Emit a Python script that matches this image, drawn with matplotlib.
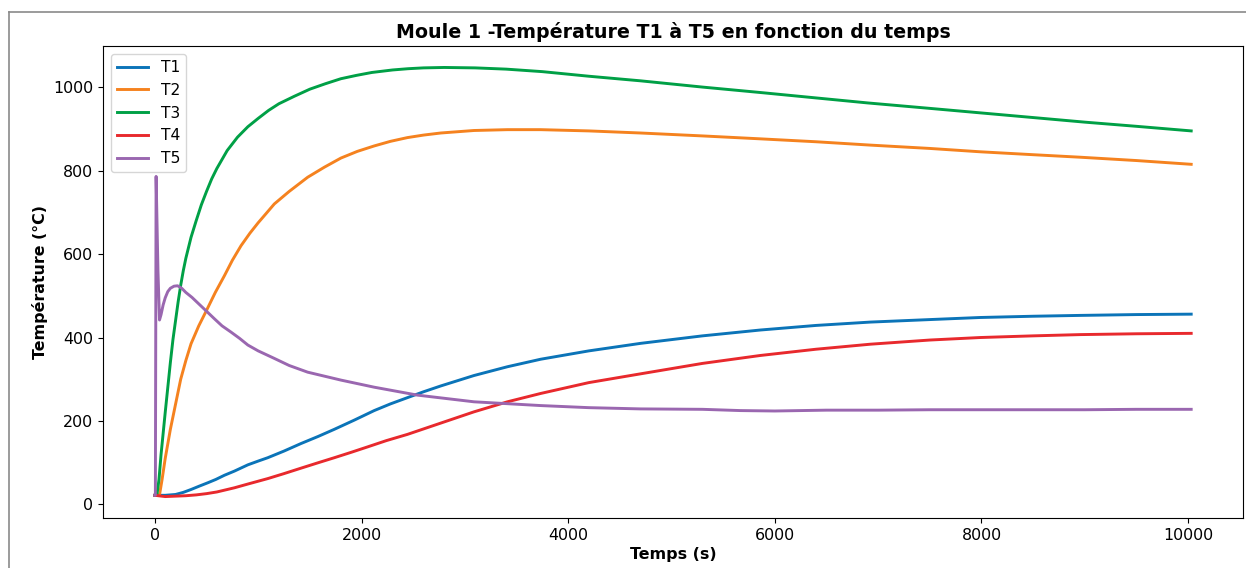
import matplotlib
matplotlib.use("Agg")
import matplotlib.pyplot as plt
from matplotlib.lines import Line2D

# Moule 1 – thermocouple readings (time in s, temperature in °C)
t1_time = [0, 100, 200, 275, 351, 430, 512, 590, 673, 770, 900, 1000, 1092,
           1250, 1414, 1580, 1736, 1929, 2123, 2280, 2445, 2600, 2767,
           3089, 3412, 3734, 4200, 4700, 5300, 5860, 6400, 6924, 7500, 7987,
           8500, 8954, 9500, 10030]
t1_temp = [22, 22, 24, 29, 36, 44, 52, 60, 70, 80, 95, 104, 112,
           128, 146, 163, 180, 202, 225, 241, 256, 270, 284,
           309, 330, 348, 368, 386, 404, 418, 429, 437, 443, 448,
           451, 453, 455, 456]

t2_time = [0, 45, 70, 100, 125, 150, 200, 250, 300, 350, 425, 500, 585, 673,
           750, 834, 920, 1000, 1080, 1156, 1300, 1479, 1640, 1801, 1960, 2123,
           2280, 2445, 2600, 2767, 3089, 3412, 3734, 4200, 4700, 5300, 5860,
           6400, 6924, 7500, 7987, 8500, 8954, 9500, 10030]
t2_temp = [22, 23, 60, 110, 145, 180, 240, 300, 345, 385, 428, 465, 508, 548,
           585, 620, 650, 675, 698, 720, 750, 784, 808, 830, 846, 859,
           870, 879, 885, 890, 896, 898, 898, 895, 890, 883, 876,
           869, 861, 853, 845, 838, 832, 824, 815]

t3_time = [0, 20, 40, 60, 80, 100, 125, 150, 175, 200, 225, 250, 275, 300,
           350, 400, 450, 500, 550, 600, 700, 800, 900, 1000, 1100, 1200, 1350,
           1500, 1650, 1800, 1950, 2100, 2300, 2450, 2600, 2800, 3100, 3400,
           3750, 4200, 4700, 5300, 5860, 6400, 6900, 7500, 8000, 8500, 9000,
           9500, 10030]
t3_temp = [22, 23, 60, 120, 170, 220, 280, 340, 395, 440, 485, 525, 560, 590,
           640, 680, 718, 750, 780, 805, 848, 880, 905, 925, 944, 960, 978,
           995, 1008, 1020, 1028, 1035, 1041, 1044, 1046, 1047, 1046, 1043,
           1037, 1026, 1015, 1000, 987, 974, 962, 949, 938, 927, 916,
           906, 895]

t4_time = [0, 100, 200, 300, 400, 500, 600, 770, 900, 1092, 1250, 1414, 1580,
           1736, 1900, 2059, 2240, 2445, 2767, 3089, 3412, 3734,
           4200, 4700, 5300, 5860, 6400, 6924, 7500, 7987, 8500, 8954, 9500,
           10030]
t4_temp = [22, 19, 20, 21, 23, 26, 30, 40, 49, 62, 74, 87, 100,
           112, 125, 138, 153, 168, 195, 222, 246, 266,
           292, 313, 338, 357, 372, 384, 394, 400, 404, 407, 409,
           410]

t5_time = [0, 5, 12, 30, 45, 60, 80, 100, 125, 150, 185, 220, 260, 300, 360,
           415, 500, 576, 650, 737, 820, 900, 1000, 1156, 1300, 1479, 1801,
           2123, 2542, 3089, 3734, 4200, 4700, 5300, 5667, 6000, 6500, 7000,
           7500, 8000, 8500, 9000, 9500, 10030]
t5_temp = [22, 22, 786, 560, 442, 455, 478, 495, 510, 518, 523, 524, 518, 508,
           496, 483, 463, 445, 428, 413, 398, 382, 368, 350, 333, 317, 298,
           281, 262, 246, 237, 232, 229, 228, 225, 224, 226, 226,
           227, 227, 227, 227, 228, 228]

series = [
    ("T1", t1_time, t1_temp, "#0b74b8"),
    ("T2", t2_time, t2_temp, "#f5821f"),
    ("T3", t3_time, t3_temp, "#00a046"),
    ("T4", t4_time, t4_temp, "#e8292d"),
    ("T5", t5_time, t5_temp, "#9a67b0"),
]

fig = plt.figure(figsize=(12.46, 5.68), dpi=100)
ax = fig.add_axes([0.0827, 0.088, 0.9149, 0.831])

for name, x, y, col in series:
    ax.plot(x, y, color=col, lw=2.1, label=name)

ax.set_title("Moule 1 -Température T1 à T5 en fonction du temps",
             fontsize=13.7, fontweight="bold", pad=6)
ax.set_xlabel("Temps (s)", fontsize=11.4, fontweight="bold", labelpad=3)
ax.set_ylabel("Température (°C)", fontsize=11.4, fontweight="bold")
ax.tick_params(labelsize=11.4)
ax.legend(loc="upper left", fontsize=11.2)

# thin frame around the figure area
border = "#8a8a8a"
fig.add_artist(Line2D([9 / 1246, 9 / 1246], [0, 1 - 12 / 568],
                      transform=fig.transFigure, color=border, lw=1.2))
fig.add_artist(Line2D([9 / 1246, 1], [1 - 12 / 568, 1 - 12 / 568],
                      transform=fig.transFigure, color=border, lw=1.2))

fig.savefig("out.png", dpi=100)
